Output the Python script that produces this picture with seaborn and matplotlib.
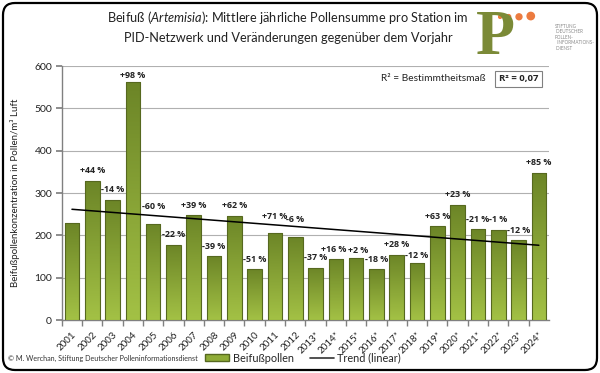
import numpy as np
import pandas as pd
import seaborn as sns
import matplotlib.pyplot as plt
from matplotlib.patches import FancyBboxPatch
from matplotlib.lines import Line2D
from matplotlib.patches import Patch

years = ['2001', '2002', '2003', '2004', '2005', '2006', '2007', '2008', '2009', '2010',
         '2011', '2012', '2013*', '2014*', '2015*', '2016*', '2017*', '2018*', '2019*',
         '2020*', '2021*', '2022*', '2023*', '2024*']
pollen = [230, 329, 284, 563, 227, 178, 248, 151, 246, 120,
          206, 196, 124, 144, 147, 120, 154, 135, 221,
          272, 215, 213, 188, 348]
changes = ['', '+44 %', '-14 %', '+98 %', '-60 %', '-22 %', '+39 %', '-39 %', '+62 %', '-51 %',
           '+71 %', '-6 %', '-37 %', '+16 %', '+2 %', '-18 %', '+28 %', '-12 %', '+63 %',
           '+23 %', '-21 %', '-1 %', '-12 %', '+85 %']
yticks = [0, 100, 200, 300, 400, 500, 600]

df = pd.DataFrame({'year': years, 'pollen': pollen})

sns.set_theme(style='white')
plt.rcParams['font.family'] = ['Lato', 'DejaVu Sans']
plt.rcParams['mathtext.fontset'] = 'custom'
plt.rcParams['mathtext.it'] = 'Lato:italic'
plt.rcParams['mathtext.rm'] = 'Lato'

fig = plt.figure(figsize=(6, 3.73), dpi=100)
ax = fig.add_axes([0.103, 0.142, 0.812, 0.681])

sns.barplot(data=df, x='year', y='pollen', color='#86a233', edgecolor='#56681f',
            linewidth=0.8, width=0.72, ax=ax, zorder=3)

# vertical gradient inside each bar (dark olive top -> light green bottom)
grad = np.linspace(0, 1, 100).reshape(-1, 1)
cmap = sns.blend_palette(['#a3c145', '#6c8527'], as_cmap=True)
for p in ax.patches:
    x0, w, h = p.get_x(), p.get_width(), p.get_height()
    im = ax.imshow(grad, extent=[x0, x0 + w, 0, h], origin='lower', aspect='auto',
                   cmap=cmap, zorder=3.5)
    im.set_clip_path(p)
    p.set_zorder(4)
    p.set_facecolor('none')

# linear trend
sns.regplot(x=np.arange(len(pollen)), y=np.array(pollen, dtype=float), scatter=False,
            ci=None, ax=ax, color='black', line_kws={'lw': 1.1, 'zorder': 5})

# percent change labels
extra = {4: 7, 10: 6, 11: 8, 3: -4, 14: -3, 17: -3}
xshift = {13: -1.5, 14: 1.5}
for i, lab in enumerate(changes):
    if not lab:
        continue
    ax.annotate(lab, (i, pollen[i]), xytext=(xshift.get(i, 0), (10 + extra.get(i, 0)) * 0.72),
                textcoords='offset points', ha='center', va='center',
                fontsize=6.4, fontweight='bold', family=['Open Sans', 'DejaVu Sans'],
                color='#222222', zorder=6)

ax.set_xlim(-0.5, len(years) - 0.5)
ax.set_ylim(0, 600)
ax.set_yticks(yticks)
ax.yaxis.grid(True, color='#b0b0b0', lw=0.8, zorder=0)
ax.set_axisbelow(True)
for s in ['top', 'right']:
    ax.spines[s].set_visible(False)
for s in ['left', 'bottom']:
    ax.spines[s].set_color('#808080')
    ax.spines[s].set_linewidth(1.0)
ax.tick_params(axis='y', which='major', left=True, length=4, color='#808080',
               labelsize=7.5, labelcolor='#222222', pad=3)
ax.set_xticks(np.arange(len(years)) - 0.5, minor=True)
ax.tick_params(axis='x', which='minor', bottom=True, length=4, color='#808080')
ax.tick_params(axis='x', which='major', bottom=False, labelsize=7, labelcolor='#222222', pad=1)
plt.setp(ax.get_xticklabels(), rotation=45, ha='right', rotation_mode='anchor')
ax.set_xlabel('')
ax.set_ylabel('Beifußpollenkonzentration in Pollen/m³ Luft', fontsize=7, color='#222222', labelpad=10)

ax.text(0.87, 0.949, 'R² = Bestimmtheitsmaß', transform=ax.transAxes, ha='right', va='center',
        fontsize=7.3, color='#222222')
ax.text(0.938, 0.949, 'R² = 0,07', transform=ax.transAxes, ha='center', va='center',
        fontsize=6.8, fontweight='bold', family=['Open Sans', 'DejaVu Sans'], color='#222222',
        bbox=dict(boxstyle='square,pad=0.4', fc='white', ec='#808080', lw=0.8))

# title
fig.text(0.48, 0.952, 'Beifuß ($\\it{Artemisia}$): Mittlere jährliche Pollensumme pro Station im',
         ha='center', va='center', fontsize=9.2, color='#222222')
fig.text(0.48, 0.897, 'PID-Netzwerk und Veränderungen gegenüber dem Vorjahr',
         ha='center', va='center', fontsize=9.2, color='#222222')

# logo
fig.text(0.825, 0.895, 'P', ha='center', va='center', fontsize=46, fontweight='bold',
         family='Liberation Serif', color='#7b8a37')
logo = fig.add_axes([0.83, 0.935, 0.07, 0.04])
logo.axis('off')
logo.scatter([0.05, 0.25, 0.5, 0.78], [0.5, 0.5, 0.5, 0.55], s=[5, 10, 18, 28], color='#ec7b3f')
logo.set_xlim(0, 1)
logo.set_ylim(0, 1)
fig.text(0.925, 0.9, 'STIFTUNG\n DEUTSCHER\nPOLLEN-\n  INFORMATIONS-\n DIENST', ha='left', va='center',
         fontsize=3.3, color='#8a8a8a', linespacing=1.1)

# legend + footer
handles = [Patch(facecolor='#8fac37', edgecolor='#56681f', label='Beifußpollen'),
           Line2D([0], [0], color='#333333', lw=1.2, label='Trend (linear)')]
fig.legend(handles=handles, loc='center', bbox_to_anchor=(0.505, 0.04), ncol=2, frameon=False,
           fontsize=7.8, handlelength=2.2, handleheight=0.6, columnspacing=1.5, handletextpad=0.3)
fig.text(0.013, 0.04, '© M. Werchan, Stiftung Deutscher Polleninformationsdienst', ha='left',
         va='center', fontsize=5.1, color='#333333')

border = FancyBboxPatch((0.03, 0.03), 5.94, 3.67, boxstyle='round,pad=0,rounding_size=0.12',
                        transform=fig.dpi_scale_trans, fc='none', ec='black', lw=1.6)
fig.add_artist(border)

plt.savefig('out.png', dpi=100)
